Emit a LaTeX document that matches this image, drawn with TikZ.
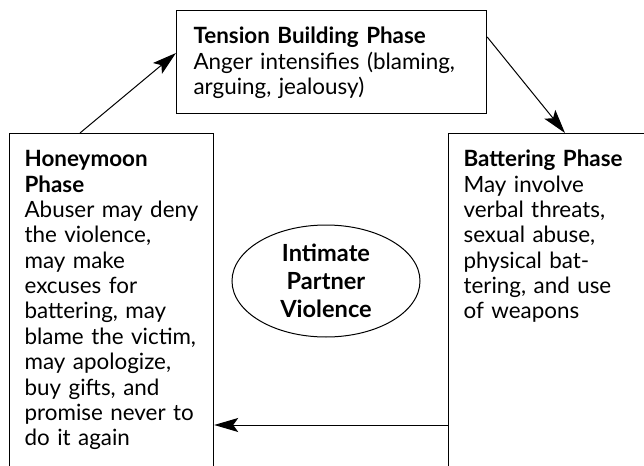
\documentclass[tikz,border=0pt]{standalone}
\usepackage{fontspec}
\setmainfont{Lato}
\usetikzlibrary{arrows.meta,shapes.geometric}

\begin{document}
\begin{tikzpicture}[x=0.5pt, y=-0.5pt, >={Stealth[length=12pt,width=7pt,inset=2.5pt]},
    phase/.style={rectangle, draw, line width=0.6pt, anchor=north west, align=left,
      font=\fontsize{11.2}{12.7}\selectfont, inner xsep=7.5pt, inner ysep=5.5pt, text height=11pt},
    core/.style={ellipse, draw, line width=0.5pt, inner sep=0pt, minimum width=94pt,
      minimum height=56pt, align=center, font=\fontsize{11.8}{14}\selectfont\bfseries},
    cycle/.style={->, line width=0.5pt}]
    \useasboundingbox (0,0) rectangle (644,466);
    \clip (0,0) rectangle (644,466);

    \node[phase, text width=138pt, inner xsep=8.5pt, text depth=29.5pt] (tension) at (176,10)
      {\textbf{Tension Building Phase}\\Anger intensifies (blaming,\\arguing, jealousy)};
    \node[phase, text width=87pt, text depth=200pt] (honey) at (9,133)
      {\textbf{Honeymoon}\\\textbf{Phase}\\Abuser may deny\\the violence,\\may make\\excuses for\\battering, may\\blame the victim,\\may apologize,\\buy gifts, and\\promise never to\\do it again};
    \node[phase, text width=120pt, text depth=200pt] (batter) at (448,133)
      {\textbf{Battering Phase}\\May involve\\verbal threats,\\sexual abuse,\\physical bat-\\tering, and use\\of weapons};
    \node[core] (ipv) at (326,281) {Intimate\\Partner\\Violence};

    \draw[cycle] ([xshift=35.5pt]honey.north west) -- ([yshift=-21.5pt]tension.north west);
    \draw[cycle] ([yshift=-13.5pt]tension.north east) -- ([xshift=58.5pt]batter.north west);
    \draw[cycle] ([yshift=-146pt]batter.north west) -- ([yshift=-146pt]honey.north east);
\end{tikzpicture}
\end{document}
